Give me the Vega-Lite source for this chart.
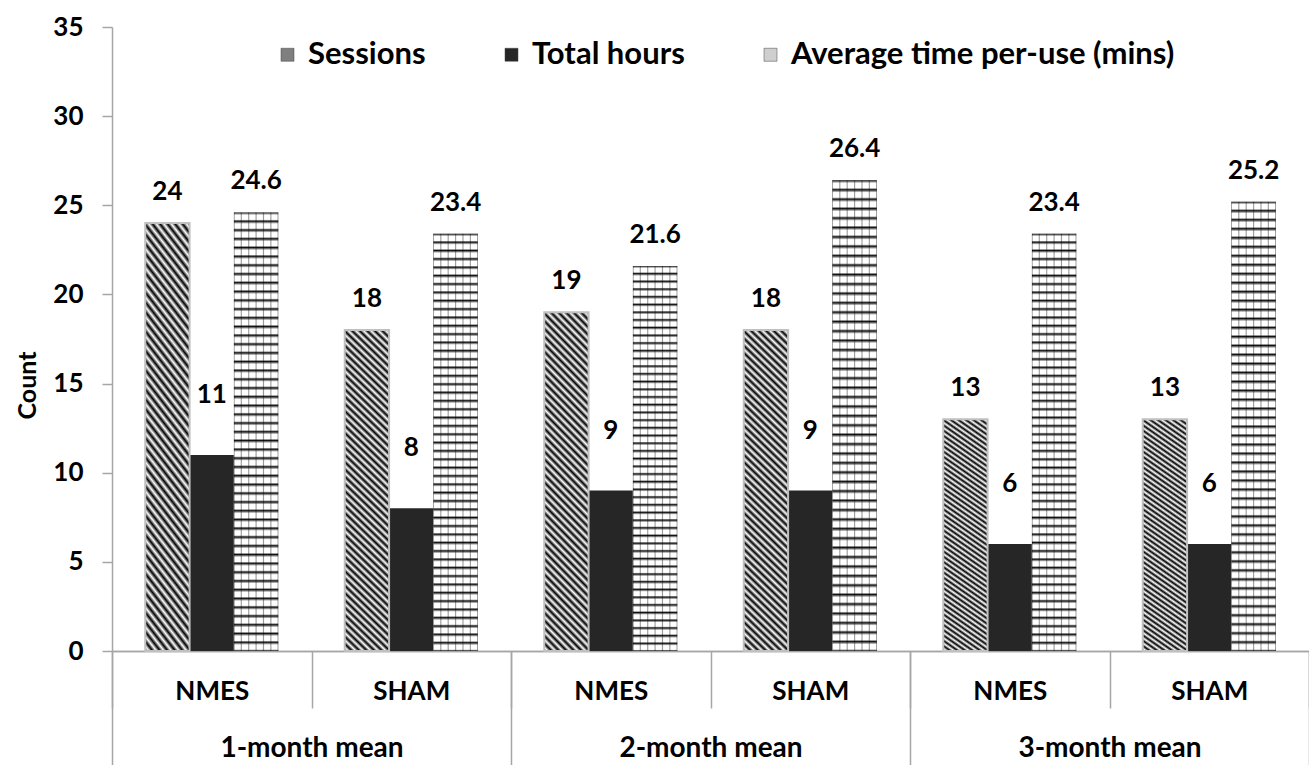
{
  "$schema": "https://vega.github.io/schema/vega-lite/v6.json",
  "width": 1197,
  "height": 624,
  "autosize": {"type": "none"},
  "padding": {"left": 112, "top": 27, "right": 0, "bottom": 114},
  "background": "white",
  "config": {"view": {"stroke": null}, "font": "Lato"},
  "data": {
    "values": [
      {"month": "1-month mean", "group": "NMES", "cat": "1-month mean NMES", "series": "Sessions", "value": 24},
      {"month": "1-month mean", "group": "NMES", "cat": "1-month mean NMES", "series": "Total hours", "value": 11},
      {"month": "1-month mean", "group": "NMES", "cat": "1-month mean NMES", "series": "Average time per-use (mins)", "value": 24.6},
      {"month": "1-month mean", "group": "SHAM", "cat": "1-month mean SHAM", "series": "Sessions", "value": 18},
      {"month": "1-month mean", "group": "SHAM", "cat": "1-month mean SHAM", "series": "Total hours", "value": 8},
      {"month": "1-month mean", "group": "SHAM", "cat": "1-month mean SHAM", "series": "Average time per-use (mins)", "value": 23.4},
      {"month": "2-month mean", "group": "NMES", "cat": "2-month mean NMES", "series": "Sessions", "value": 19},
      {"month": "2-month mean", "group": "NMES", "cat": "2-month mean NMES", "series": "Total hours", "value": 9},
      {"month": "2-month mean", "group": "NMES", "cat": "2-month mean NMES", "series": "Average time per-use (mins)", "value": 21.6},
      {"month": "2-month mean", "group": "SHAM", "cat": "2-month mean SHAM", "series": "Sessions", "value": 18},
      {"month": "2-month mean", "group": "SHAM", "cat": "2-month mean SHAM", "series": "Total hours", "value": 9},
      {"month": "2-month mean", "group": "SHAM", "cat": "2-month mean SHAM", "series": "Average time per-use (mins)", "value": 26.4},
      {"month": "3-month mean", "group": "NMES", "cat": "3-month mean NMES", "series": "Sessions", "value": 13},
      {"month": "3-month mean", "group": "NMES", "cat": "3-month mean NMES", "series": "Total hours", "value": 6},
      {"month": "3-month mean", "group": "NMES", "cat": "3-month mean NMES", "series": "Average time per-use (mins)", "value": 23.4},
      {"month": "3-month mean", "group": "SHAM", "cat": "3-month mean SHAM", "series": "Sessions", "value": 13},
      {"month": "3-month mean", "group": "SHAM", "cat": "3-month mean SHAM", "series": "Total hours", "value": 6},
      {"month": "3-month mean", "group": "SHAM", "cat": "3-month mean SHAM", "series": "Average time per-use (mins)", "value": 25.2}
    ]
  },
  "layer": [
    {
      "encoding": {
        "x": {
          "field": "cat",
          "type": "nominal",
          "scale": {
            "domain": ["1-month mean NMES", "1-month mean SHAM", "2-month mean NMES", "2-month mean SHAM", "3-month mean NMES", "3-month mean SHAM"],
            "paddingInner": 0,
            "paddingOuter": 0
          },
          "axis": {
            "orient": "bottom",
            "title": null,
            "labelExpr": "split(datum.label, ' ')[2]",
            "labelAngle": 0,
            "tickBand": "extent",
            "tickSize": 57,
            "tickColor": "#a6a6a6",
            "tickWidth": 1.5,
            "domainColor": "#a6a6a6",
            "domainWidth": 1.5,
            "labelFont": "Lato",
            "labelFontWeight": "bold",
            "labelFontSize": 26,
            "labelColor": "#000000",
            "labelBaseline": "middle",
            "labelLimit": 300,
            "labelPadding": -17
          }
        },
        "xOffset": {
          "field": "series",
          "type": "nominal",
          "scale": {
            "domain": ["Sessions", "Total hours", "Average time per-use (mins)"],
            "paddingInner": 0,
            "paddingOuter": 0.75
          }
        },
        "y": {
          "field": "value",
          "type": "quantitative",
          "stack": null,
          "scale": {"domain": [0, 35], "nice": false},
          "axis": {
            "title": "Count",
            "values": [0, 5, 10, 15, 20, 25, 30, 35],
            "grid": false,
            "tickSize": 10,
            "tickColor": "#a6a6a6",
            "tickWidth": 1.5,
            "domainColor": "#a6a6a6",
            "domainWidth": 1.5,
            "labelFont": "Lato",
            "labelFontWeight": "bold",
            "labelFontSize": 26,
            "labelColor": "#000000",
            "labelPadding": 19,
            "titleFont": "Lato",
            "titleFontWeight": "bold",
            "titleFontSize": 25,
            "titleColor": "#000000",
            "titleAngle": -90,
            "titleX": -85,
            "titleY": 358,
            "titleAlign": "center",
            "titleBaseline": "middle"
          }
        }
      },
      "layer": [
        {
          "mark": {"type": "bar"},
          "encoding": {
            "color": {
              "field": "series",
              "type": "nominal",
              "scale": {
                "domain": ["Sessions", "Total hours", "Average time per-use (mins)"],
                "range": ["#7f7f7f", "#262626", "#cfcfcf"]
              },
              "legend": {
                "orient": "none",
                "legendX": 160,
                "legendY": 12,
                "direction": "horizontal",
                "title": null,
                "padding": 0,
                "symbolType": "square",
                "symbolSize": 169,
                "symbolStrokeColor": "#444444",
                "symbolStrokeWidth": 0.5,
                "labelFont": "Lato",
                "labelFontWeight": "bold",
                "labelFontSize": 31,
                "labelColor": "#000000",
                "labelLimit": 600,
                "labelOffset": 5,
                "columnPadding": 70
              }
            }
          }
        },
        {
          "transform": [{"filter": "datum.series === 'Sessions'"}],
          "mark": {
            "type": "bar",
            "stroke": "#c0c0c0",
            "strokeWidth": 2,
            "fill": {
              "gradient": "linear",
              "x1": 0, "y1": 1, "x2": 0.1485, "y2": -0.1135,
              "stops": [
                {"offset": 0, "color": "#000"}, {"offset": 0.01, "color": "#fff"}, {"offset": 0.02, "color": "#000"}, {"offset": 0.03, "color": "#fff"},
                {"offset": 0.04, "color": "#000"}, {"offset": 0.05, "color": "#fff"}, {"offset": 0.06, "color": "#000"}, {"offset": 0.07, "color": "#fff"},
                {"offset": 0.08, "color": "#000"}, {"offset": 0.09, "color": "#fff"}, {"offset": 0.1, "color": "#000"}, {"offset": 0.11, "color": "#fff"},
                {"offset": 0.12, "color": "#000"}, {"offset": 0.13, "color": "#fff"}, {"offset": 0.14, "color": "#000"}, {"offset": 0.15, "color": "#fff"},
                {"offset": 0.16, "color": "#000"}, {"offset": 0.17, "color": "#fff"}, {"offset": 0.18, "color": "#000"}, {"offset": 0.19, "color": "#fff"},
                {"offset": 0.2, "color": "#000"}, {"offset": 0.21, "color": "#fff"}, {"offset": 0.22, "color": "#000"}, {"offset": 0.23, "color": "#fff"},
                {"offset": 0.24, "color": "#000"}, {"offset": 0.25, "color": "#fff"}, {"offset": 0.26, "color": "#000"}, {"offset": 0.27, "color": "#fff"},
                {"offset": 0.28, "color": "#000"}, {"offset": 0.29, "color": "#fff"}, {"offset": 0.3, "color": "#000"}, {"offset": 0.31, "color": "#fff"},
                {"offset": 0.32, "color": "#000"}, {"offset": 0.33, "color": "#fff"}, {"offset": 0.34, "color": "#000"}, {"offset": 0.35, "color": "#fff"},
                {"offset": 0.36, "color": "#000"}, {"offset": 0.37, "color": "#fff"}, {"offset": 0.38, "color": "#000"}, {"offset": 0.39, "color": "#fff"},
                {"offset": 0.4, "color": "#000"}, {"offset": 0.41, "color": "#fff"}, {"offset": 0.42, "color": "#000"}, {"offset": 0.43, "color": "#fff"},
                {"offset": 0.44, "color": "#000"}, {"offset": 0.45, "color": "#fff"}, {"offset": 0.46, "color": "#000"}, {"offset": 0.47, "color": "#fff"},
                {"offset": 0.48, "color": "#000"}, {"offset": 0.49, "color": "#fff"}, {"offset": 0.5, "color": "#000"}, {"offset": 0.51, "color": "#fff"},
                {"offset": 0.52, "color": "#000"}, {"offset": 0.53, "color": "#fff"}, {"offset": 0.54, "color": "#000"}, {"offset": 0.55, "color": "#fff"},
                {"offset": 0.56, "color": "#000"}, {"offset": 0.57, "color": "#fff"}, {"offset": 0.58, "color": "#000"}, {"offset": 0.59, "color": "#fff"},
                {"offset": 0.6, "color": "#000"}, {"offset": 0.61, "color": "#fff"}, {"offset": 0.62, "color": "#000"}, {"offset": 0.63, "color": "#fff"},
                {"offset": 0.64, "color": "#000"}, {"offset": 0.65, "color": "#fff"}, {"offset": 0.66, "color": "#000"}, {"offset": 0.67, "color": "#fff"},
                {"offset": 0.68, "color": "#000"}, {"offset": 0.69, "color": "#fff"}, {"offset": 0.7, "color": "#000"}, {"offset": 0.71, "color": "#fff"},
                {"offset": 0.72, "color": "#000"}, {"offset": 0.73, "color": "#fff"}, {"offset": 0.74, "color": "#000"}, {"offset": 0.75, "color": "#fff"},
                {"offset": 0.76, "color": "#000"}, {"offset": 0.77, "color": "#fff"}, {"offset": 0.78, "color": "#000"}, {"offset": 0.79, "color": "#fff"},
                {"offset": 0.8, "color": "#000"}, {"offset": 0.81, "color": "#fff"}, {"offset": 0.82, "color": "#000"}, {"offset": 0.83, "color": "#fff"},
                {"offset": 0.84, "color": "#000"}, {"offset": 0.85, "color": "#fff"}, {"offset": 0.86, "color": "#000"}, {"offset": 0.87, "color": "#fff"},
                {"offset": 0.88, "color": "#000"}, {"offset": 0.89, "color": "#fff"}, {"offset": 0.9, "color": "#000"}, {"offset": 0.91, "color": "#fff"},
                {"offset": 0.92, "color": "#000"}, {"offset": 0.93, "color": "#fff"}, {"offset": 0.94, "color": "#000"}, {"offset": 0.95, "color": "#fff"},
                {"offset": 0.96, "color": "#000"}, {"offset": 0.97, "color": "#fff"}, {"offset": 0.98, "color": "#000"}, {"offset": 0.99, "color": "#fff"},
                {"offset": 1, "color": "#000"}
              ]
            }
          }
        },
        {
          "transform": [{"filter": "datum.series === 'Average time per-use (mins)'"}],
          "mark": {
            "type": "bar",
            "fill": {
              "gradient": "linear",
              "x1": 0, "y1": 0, "x2": 0, "y2": 1,
              "stops": [
                {"offset": 0, "color": "#111"}, {"offset": 0.006, "color": "#fff"}, {"offset": 0.016, "color": "#fff"},
                {"offset": 0.02, "color": "#111"}, {"offset": 0.026, "color": "#fff"}, {"offset": 0.036, "color": "#fff"},
                {"offset": 0.04, "color": "#111"}, {"offset": 0.046, "color": "#fff"}, {"offset": 0.056, "color": "#fff"},
                {"offset": 0.06, "color": "#111"}, {"offset": 0.066, "color": "#fff"}, {"offset": 0.076, "color": "#fff"},
                {"offset": 0.08, "color": "#111"}, {"offset": 0.086, "color": "#fff"}, {"offset": 0.096, "color": "#fff"},
                {"offset": 0.1, "color": "#111"}, {"offset": 0.106, "color": "#fff"}, {"offset": 0.116, "color": "#fff"},
                {"offset": 0.12, "color": "#111"}, {"offset": 0.126, "color": "#fff"}, {"offset": 0.136, "color": "#fff"},
                {"offset": 0.14, "color": "#111"}, {"offset": 0.146, "color": "#fff"}, {"offset": 0.156, "color": "#fff"},
                {"offset": 0.16, "color": "#111"}, {"offset": 0.166, "color": "#fff"}, {"offset": 0.176, "color": "#fff"},
                {"offset": 0.18, "color": "#111"}, {"offset": 0.186, "color": "#fff"}, {"offset": 0.196, "color": "#fff"},
                {"offset": 0.2, "color": "#111"}, {"offset": 0.206, "color": "#fff"}, {"offset": 0.216, "color": "#fff"},
                {"offset": 0.22, "color": "#111"}, {"offset": 0.226, "color": "#fff"}, {"offset": 0.236, "color": "#fff"},
                {"offset": 0.24, "color": "#111"}, {"offset": 0.246, "color": "#fff"}, {"offset": 0.256, "color": "#fff"},
                {"offset": 0.26, "color": "#111"}, {"offset": 0.266, "color": "#fff"}, {"offset": 0.276, "color": "#fff"},
                {"offset": 0.28, "color": "#111"}, {"offset": 0.286, "color": "#fff"}, {"offset": 0.296, "color": "#fff"},
                {"offset": 0.3, "color": "#111"}, {"offset": 0.306, "color": "#fff"}, {"offset": 0.316, "color": "#fff"},
                {"offset": 0.32, "color": "#111"}, {"offset": 0.326, "color": "#fff"}, {"offset": 0.336, "color": "#fff"},
                {"offset": 0.34, "color": "#111"}, {"offset": 0.346, "color": "#fff"}, {"offset": 0.356, "color": "#fff"},
                {"offset": 0.36, "color": "#111"}, {"offset": 0.366, "color": "#fff"}, {"offset": 0.376, "color": "#fff"},
                {"offset": 0.38, "color": "#111"}, {"offset": 0.386, "color": "#fff"}, {"offset": 0.396, "color": "#fff"},
                {"offset": 0.4, "color": "#111"}, {"offset": 0.406, "color": "#fff"}, {"offset": 0.416, "color": "#fff"},
                {"offset": 0.42, "color": "#111"}, {"offset": 0.426, "color": "#fff"}, {"offset": 0.436, "color": "#fff"},
                {"offset": 0.44, "color": "#111"}, {"offset": 0.446, "color": "#fff"}, {"offset": 0.456, "color": "#fff"},
                {"offset": 0.46, "color": "#111"}, {"offset": 0.466, "color": "#fff"}, {"offset": 0.476, "color": "#fff"},
                {"offset": 0.48, "color": "#111"}, {"offset": 0.486, "color": "#fff"}, {"offset": 0.496, "color": "#fff"},
                {"offset": 0.5, "color": "#111"}, {"offset": 0.506, "color": "#fff"}, {"offset": 0.516, "color": "#fff"},
                {"offset": 0.52, "color": "#111"}, {"offset": 0.526, "color": "#fff"}, {"offset": 0.536, "color": "#fff"},
                {"offset": 0.54, "color": "#111"}, {"offset": 0.546, "color": "#fff"}, {"offset": 0.556, "color": "#fff"},
                {"offset": 0.56, "color": "#111"}, {"offset": 0.566, "color": "#fff"}, {"offset": 0.576, "color": "#fff"},
                {"offset": 0.58, "color": "#111"}, {"offset": 0.586, "color": "#fff"}, {"offset": 0.596, "color": "#fff"},
                {"offset": 0.6, "color": "#111"}, {"offset": 0.606, "color": "#fff"}, {"offset": 0.616, "color": "#fff"},
                {"offset": 0.62, "color": "#111"}, {"offset": 0.626, "color": "#fff"}, {"offset": 0.636, "color": "#fff"},
                {"offset": 0.64, "color": "#111"}, {"offset": 0.646, "color": "#fff"}, {"offset": 0.656, "color": "#fff"},
                {"offset": 0.66, "color": "#111"}, {"offset": 0.666, "color": "#fff"}, {"offset": 0.676, "color": "#fff"},
                {"offset": 0.68, "color": "#111"}, {"offset": 0.686, "color": "#fff"}, {"offset": 0.696, "color": "#fff"},
                {"offset": 0.7, "color": "#111"}, {"offset": 0.706, "color": "#fff"}, {"offset": 0.716, "color": "#fff"},
                {"offset": 0.72, "color": "#111"}, {"offset": 0.726, "color": "#fff"}, {"offset": 0.736, "color": "#fff"},
                {"offset": 0.74, "color": "#111"}, {"offset": 0.746, "color": "#fff"}, {"offset": 0.756, "color": "#fff"},
                {"offset": 0.76, "color": "#111"}, {"offset": 0.766, "color": "#fff"}, {"offset": 0.776, "color": "#fff"},
                {"offset": 0.78, "color": "#111"}, {"offset": 0.786, "color": "#fff"}, {"offset": 0.796, "color": "#fff"},
                {"offset": 0.8, "color": "#111"}, {"offset": 0.806, "color": "#fff"}, {"offset": 0.816, "color": "#fff"},
                {"offset": 0.82, "color": "#111"}, {"offset": 0.826, "color": "#fff"}, {"offset": 0.836, "color": "#fff"},
                {"offset": 0.84, "color": "#111"}, {"offset": 0.846, "color": "#fff"}, {"offset": 0.856, "color": "#fff"},
                {"offset": 0.86, "color": "#111"}, {"offset": 0.866, "color": "#fff"}, {"offset": 0.876, "color": "#fff"},
                {"offset": 0.88, "color": "#111"}, {"offset": 0.886, "color": "#fff"}, {"offset": 0.896, "color": "#fff"},
                {"offset": 0.9, "color": "#111"}, {"offset": 0.906, "color": "#fff"}, {"offset": 0.916, "color": "#fff"},
                {"offset": 0.92, "color": "#111"}, {"offset": 0.926, "color": "#fff"}, {"offset": 0.936, "color": "#fff"},
                {"offset": 0.94, "color": "#111"}, {"offset": 0.946, "color": "#fff"}, {"offset": 0.956, "color": "#fff"},
                {"offset": 0.96, "color": "#111"}, {"offset": 0.966, "color": "#fff"}, {"offset": 0.976, "color": "#fff"},
                {"offset": 0.98, "color": "#111"}, {"offset": 0.986, "color": "#fff"}, {"offset": 0.996, "color": "#fff"},
                {"offset": 1, "color": "#111"}
              ]
            }
          }
        },
        {
          "transform": [{"filter": "datum.series === 'Average time per-use (mins)'"}],
          "mark": {
            "type": "bar",
            "fill": {
              "gradient": "linear",
              "x1": 0, "y1": 0, "x2": 1, "y2": 0,
              "stops": [
                {"offset": 0, "color": "rgba(0,0,0,0.6)"},
                {"offset": 0.025, "color": "rgba(0,0,0,0)"},
                {"offset": 0.1417, "color": "rgba(0,0,0,0)"},
                {"offset": 0.1667, "color": "rgba(0,0,0,0.4)"},
                {"offset": 0.1917, "color": "rgba(0,0,0,0)"},
                {"offset": 0.3083, "color": "rgba(0,0,0,0)"},
                {"offset": 0.3333, "color": "rgba(0,0,0,0.4)"},
                {"offset": 0.3583, "color": "rgba(0,0,0,0)"},
                {"offset": 0.475, "color": "rgba(0,0,0,0)"},
                {"offset": 0.5, "color": "rgba(0,0,0,0.4)"},
                {"offset": 0.525, "color": "rgba(0,0,0,0)"},
                {"offset": 0.6417, "color": "rgba(0,0,0,0)"},
                {"offset": 0.6667, "color": "rgba(0,0,0,0.4)"},
                {"offset": 0.6917, "color": "rgba(0,0,0,0)"},
                {"offset": 0.8083, "color": "rgba(0,0,0,0)"},
                {"offset": 0.8333, "color": "rgba(0,0,0,0.4)"},
                {"offset": 0.8583, "color": "rgba(0,0,0,0)"},
                {"offset": 0.975, "color": "rgba(0,0,0,0)"},
                {"offset": 1, "color": "rgba(0,0,0,0.6)"}
              ]
            }
          }
        },
        {
          "transform": [{"filter": "datum.series !== 'Total hours'"}],
          "mark": {
            "type": "text",
            "font": "Lato",
            "fontWeight": "bold",
            "fontSize": 26,
            "color": "#000000",
            "baseline": "middle",
            "dy": -31
          },
          "encoding": {
            "text": {"field": "value", "type": "quantitative"}
          }
        },
        {
          "transform": [{"filter": "datum.series === 'Total hours'"}],
          "mark": {
            "type": "text",
            "font": "Lato",
            "fontWeight": "bold",
            "fontSize": 26,
            "color": "#000000",
            "baseline": "middle",
            "dy": -60
          },
          "encoding": {
            "text": {"field": "value", "type": "quantitative"}
          }
        }
      ]
    },
    {
      "mark": {"type": "bar", "opacity": 0},
      "encoding": {
        "x": {
          "field": "month",
          "type": "nominal",
          "scale": {
            "domain": ["1-month mean", "2-month mean", "3-month mean"],
            "paddingInner": 0,
            "paddingOuter": 0
          },
          "axis": {
            "orient": "bottom",
            "title": null,
            "labelAngle": 0,
            "tickBand": "extent",
            "tickSize": 114,
            "tickColor": "#a6a6a6",
            "tickWidth": 1.5,
            "domainColor": "#a6a6a6",
            "domainWidth": 1.5,
            "labelFont": "Lato",
            "labelFontWeight": "bold",
            "labelFontSize": 28,
            "labelColor": "#000000",
            "labelBaseline": "middle",
            "labelLimit": 400,
            "labelPadding": -17
          }
        }
      }
    }
  ],
  "resolve": {"scale": {"x": "independent"}, "axis": {"x": "independent"}}
}
